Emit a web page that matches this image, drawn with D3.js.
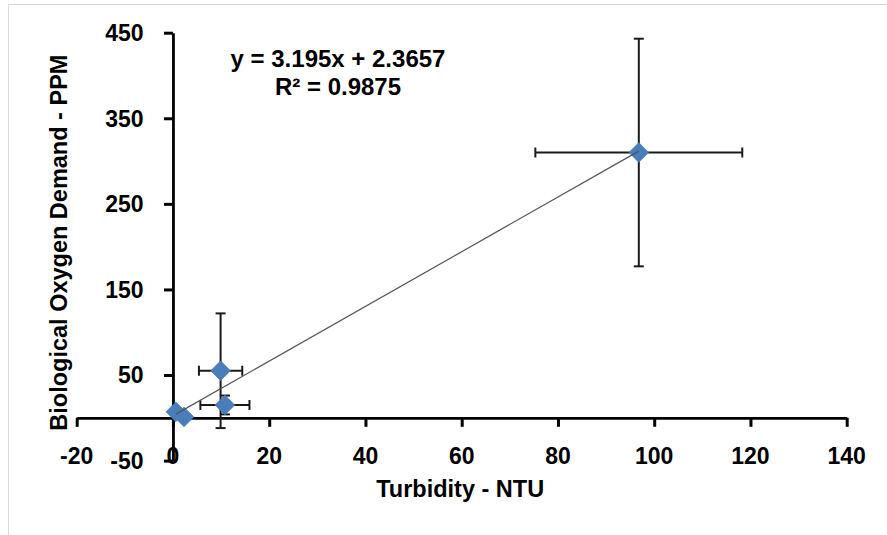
<!DOCTYPE html>
<html><head><meta charset="utf-8">
<script src="https://cdn.jsdelivr.net/npm/d3@7"></script>
<style>
body{margin:0;background:#fff}
svg{display:block}
text{font-family:"Liberation Sans",Arial,sans-serif;font-weight:bold;fill:#000}
</style>
</head><body>
<svg id="chart" width="887" height="535"></svg>
<script>
// ---- data ----
const turbidity    = [0.6, 2.3, 9.9, 10.8, 96.8];
const bod          = [7, 1, 55, 15, 310];
const turbidityErr = [0, 0, 4.5, 5.1, 21.5];
const bodErr       = [0, 0, 67, 11, 133];
const xTicks = [-20, 0, 20, 40, 60, 80, 100, 120, 140];
const yTicks = [-50, 50, 150, 250, 350, 450];
const trendSlope = 3.195, trendIntercept = 2.3657;
const equationLines = ["y = 3.195x + 2.3657", "R\u00B2 = 0.9875"];
const xTitle = "Turbidity - NTU";
const yTitle = "Biological Oxygen Demand - PPM";

const svg = d3.select("#chart");
const x = d3.scaleLinear().domain([-20, 140]).range([76.7, 846.7]);
const y = d3.scaleLinear().domain([-50, 450]).range([460.6, 32.7]);

// outer chart border
svg.append("rect").attr("x", 8.5).attr("y", 4.5).attr("width", 1000).attr("height", 1000)
  .attr("fill", "none").attr("stroke", "#d9d9d9").attr("stroke-width", 1);

// x axis line at y = 0
const gx = svg.append("g").attr("transform", `translate(0,${y(0)})`)
  .call(d3.axisBottom(x).tickValues(xTicks).tickSizeInner(9).tickSizeOuter(0).tickFormat(""));
gx.select(".domain").attr("stroke", "#000").attr("stroke-width", 2.8);
gx.selectAll(".tick line").attr("stroke", "#000").attr("stroke-width", 3);

// y axis line at x = 0
const gy = svg.append("g").attr("transform", `translate(${x(0)},0)`)
  .call(d3.axisLeft(y).tickValues(yTicks).tickSizeInner(9).tickSizeOuter(0).tickFormat(""));
gy.select(".domain").attr("stroke", "#000").attr("stroke-width", 2.8);
gy.selectAll(".tick line").attr("stroke", "#000").attr("stroke-width", 3);

// tick labels (low position)
svg.append("g").selectAll("text").data(xTicks).join("text")
  .attr("x", d => x(d)).attr("y", 463.5).attr("text-anchor", "middle")
  .style("font-size", "23px").text(d => d);
svg.append("g").selectAll("text").data(yTicks).join("text")
  .attr("x", 143.5).attr("y", d => y(d) + 8.3).attr("text-anchor", "end")
  .style("font-size", "23px").text(d => d);

// redraw axis lines over labels (y axis covers the "0" label like the reference)
svg.node().appendChild(gy.node());

// axis titles
svg.append("text").attr("x", x(60) - 1.5).attr("y", 496.5).attr("text-anchor", "middle")
  .style("font-size", "23.5px").text(xTitle);
svg.append("text").attr("transform", `translate(67,${(y(-50) + y(450)) / 2 - 4}) rotate(-90)`)
  .attr("text-anchor", "middle").style("font-size", "23.5px").text(yTitle);

const pts = turbidity.map((t, i) => ({x: t, y: bod[i], ex: turbidityErr[i], ey: bodErr[i]}));

// error bars
const eb = svg.append("g").attr("stroke", "#1a1a1a").attr("stroke-width", 2).attr("fill", "none");
const cap = 5;
pts.filter(p => p.ex > 0).forEach(p => {
  const y0 = y(p.y), xl = x(p.x - p.ex), xr = x(p.x + p.ex);
  eb.append("line").attr("x1", xl).attr("x2", xr).attr("y1", y0).attr("y2", y0);
  eb.append("line").attr("x1", xl).attr("x2", xl).attr("y1", y0 - cap).attr("y2", y0 + cap);
  eb.append("line").attr("x1", xr).attr("x2", xr).attr("y1", y0 - cap).attr("y2", y0 + cap);
});
pts.filter(p => p.ey > 0).forEach(p => {
  const x0 = x(p.x), yt = y(p.y + p.ey), yb = y(p.y - p.ey);
  eb.append("line").attr("x1", x0).attr("x2", x0).attr("y1", yt).attr("y2", yb);
  eb.append("line").attr("x1", x0 - cap).attr("x2", x0 + cap).attr("y1", yt).attr("y2", yt);
  eb.append("line").attr("x1", x0 - cap).attr("x2", x0 + cap).attr("y1", yb).attr("y2", yb);
});

// markers (diamonds)
const diamond = d3.symbol().type(d3.symbolDiamond2).size(250);
svg.append("g").selectAll("path").data(pts).join("path")
  .attr("d", diamond)
  .attr("transform", d => `translate(${x(d.x)},${y(d.y)})`)
  .attr("fill", "#4a7ebb").attr("stroke", "#4577b3").attr("stroke-width", 0.6);

// linear trendline over the data range
const [xmin, xmax] = d3.extent(turbidity);
svg.append("line")
  .attr("x1", x(xmin)).attr("y1", y(trendSlope * xmin + trendIntercept))
  .attr("x2", x(xmax)).attr("y2", y(trendSlope * xmax + trendIntercept))
  .attr("stroke", "#555").attr("stroke-width", 1.2);

// equation label
svg.append("g").selectAll("text").data(equationLines).join("text")
  .attr("x", 338).attr("y", (d, i) => 66.7 + i * 27.8).attr("text-anchor", "middle")
  .style("font-size", "24px").text(d => d);
</script>
</body></html>
